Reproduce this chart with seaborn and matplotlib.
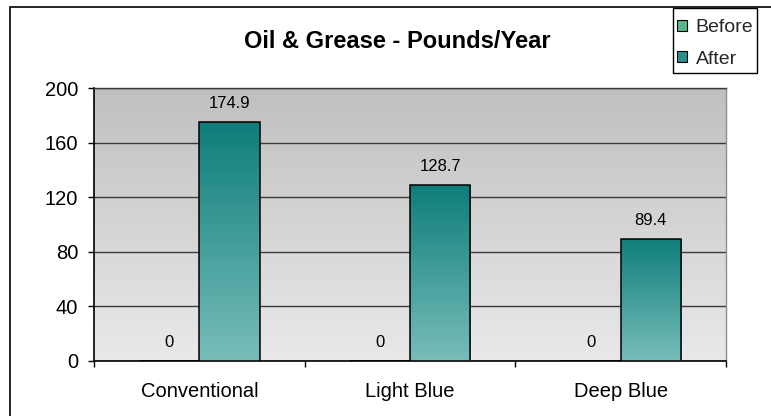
import numpy as np
import pandas as pd
import matplotlib
matplotlib.use("Agg")
import matplotlib.pyplot as plt
from matplotlib.patches import Rectangle
from matplotlib.colors import LinearSegmentedColormap
import seaborn as sns

# Chart data
categories = ["Conventional", "Light Blue", "Deep Blue"]
series_names = ["Before", "After"]
before_values = [0, 0, 0]
after_values = [174.9, 128.7, 89.4]
y_ticks = [0, 40, 80, 120, 160, 200]
title = "Oil & Grease - Pounds/Year"

df = pd.DataFrame({
    "category": categories * 2,
    "period": [series_names[0]] * len(categories) + [series_names[1]] * len(categories),
    "value": before_values + after_values,
})

sns.set_theme(style="white")
plt.rcParams["font.family"] = ["Liberation Sans", "DejaVu Sans"]

W, H = 771, 416
fig = plt.figure(figsize=(W / 100, H / 100), dpi=100)
fig.patch.set_facecolor("white")
ax = fig.add_axes([94 / W, 1 - 361 / H, (726 - 94) / W, (361 - 88) / H])

palette = {"Before": "#5fb58b", "After": "#2a8f8b"}
sns.barplot(data=df, x="category", y="value", hue="period",
            order=categories, hue_order=series_names, palette=palette,
            saturation=1, width=0.572, edgecolor="black", linewidth=1.1,
            ax=ax, legend=False, zorder=3)

# vertical gradient fill for every bar
grad = np.linspace(0, 1, 256).reshape(-1, 1)
bar_cmaps = {
    "Before": LinearSegmentedColormap.from_list("before", ["#9fd6b8", "#2f9a66"]),
    "After": LinearSegmentedColormap.from_list("after", ["#78bdba", "#0e7e7a"]),
}
for name, container in zip(series_names, ax.containers):
    for bar in container:
        h = bar.get_height()
        if h <= 0:
            continue
        x0, w = bar.get_x(), bar.get_width()
        im = ax.imshow(grad, cmap=bar_cmaps[name], origin="lower",
                       extent=(x0, x0 + w, 0, h), aspect="auto",
                       interpolation="bicubic", zorder=3.5)
        im.set_clip_path(bar)
        bar.set_facecolor("none")
        bar.set_zorder(4)

ax.set_xlim(-0.5, len(categories) - 0.5)
ax.set_ylim(y_ticks[0], y_ticks[-1])

# gray gradient plot area
bg_cmap = LinearSegmentedColormap.from_list("bg", ["#e9e9e9", "#c0c0c0"])
ax.imshow(grad, cmap=bg_cmap, origin="lower",
          extent=(-0.5, len(categories) - 0.5, y_ticks[0], y_ticks[-1]),
          aspect="auto", interpolation="bicubic", zorder=-1)
ax.set_facecolor("none")

# value labels above bars
for vals, container in zip([before_values, after_values], ax.containers):
    for bar, v in zip(container, vals):
        ax.annotate(f"{v:g}", (bar.get_x() + bar.get_width() / 2, v),
                    xytext=(0, 13.5), textcoords="offset points",
                    ha="center", va="center", fontsize=12, color="black",
                    zorder=6)

# axes, grid and ticks
ax.set_axisbelow(True)
ax.yaxis.grid(True, color="#3a3a3a", linewidth=1.0)
ax.xaxis.grid(False)
ax.set_yticks(y_ticks)
ax.set_yticklabels([str(t) for t in y_ticks])
ax.tick_params(axis="y", direction="out", length=4.3, width=1, color="black",
               pad=7, labelsize=14.5, labelcolor="black", left=True)
ax.set_xticks([i - 0.5 for i in range(len(categories) + 1)])
ax.set_xticklabels([])
ax.set_xticks(range(len(categories)), minor=True)
ax.set_xticklabels(categories, minor=True)
ax.tick_params(axis="x", which="major", direction="out", length=4.3, width=1,
               color="black", bottom=True)
ax.tick_params(axis="x", which="minor", length=0, pad=15, labelsize=14.5,
               labelcolor="black", bottom=True)
ax.set_xlabel("")
ax.set_ylabel("")

for side in ("left", "bottom"):
    ax.spines[side].set_color("black")
    ax.spines[side].set_linewidth(1.2)
ax.spines["top"].set_color("#3a3a3a")
ax.spines["top"].set_linewidth(1.0)
ax.spines["right"].set_color("#8c8c8c")
ax.spines["right"].set_linewidth(1.0)
for s in ax.spines.values():
    s.set_visible(True)

# title
fig.text(397 / W, 1 - 41 / H, title, ha="center", va="center",
         fontsize=17, fontweight="bold", color="black")

# legend box, drawn separately so its padding can differ per side
fig.add_artist(Rectangle((673 / W, 1 - 73 / H), (757 - 673) / W, (73 - 8) / H,
                         transform=fig.transFigure, facecolor="white",
                         edgecolor="black", linewidth=1.0, zorder=5))
handles = [Rectangle((0, 0), 1, 1, facecolor=c, edgecolor="black", linewidth=0.8)
           for c in (palette["Before"], palette["After"])]
leg = fig.legend(handles, series_names, loc="upper left",
                 bbox_to_anchor=(677 / W, 1 - 19 / H), borderaxespad=0,
                 frameon=False, fontsize=14,
                 handlelength=0.5, handleheight=0.5, handletextpad=0.45,
                 borderpad=0, labelspacing=0.75)
leg.set_zorder(6)

# outer chart border
fig.add_artist(Rectangle((10 / W, -0.1), 1.2, 1 - 7 / H + 0.1,
                         transform=fig.transFigure, fill=False,
                         edgecolor="black", linewidth=1.2))

fig.savefig("out.png", dpi=100)
